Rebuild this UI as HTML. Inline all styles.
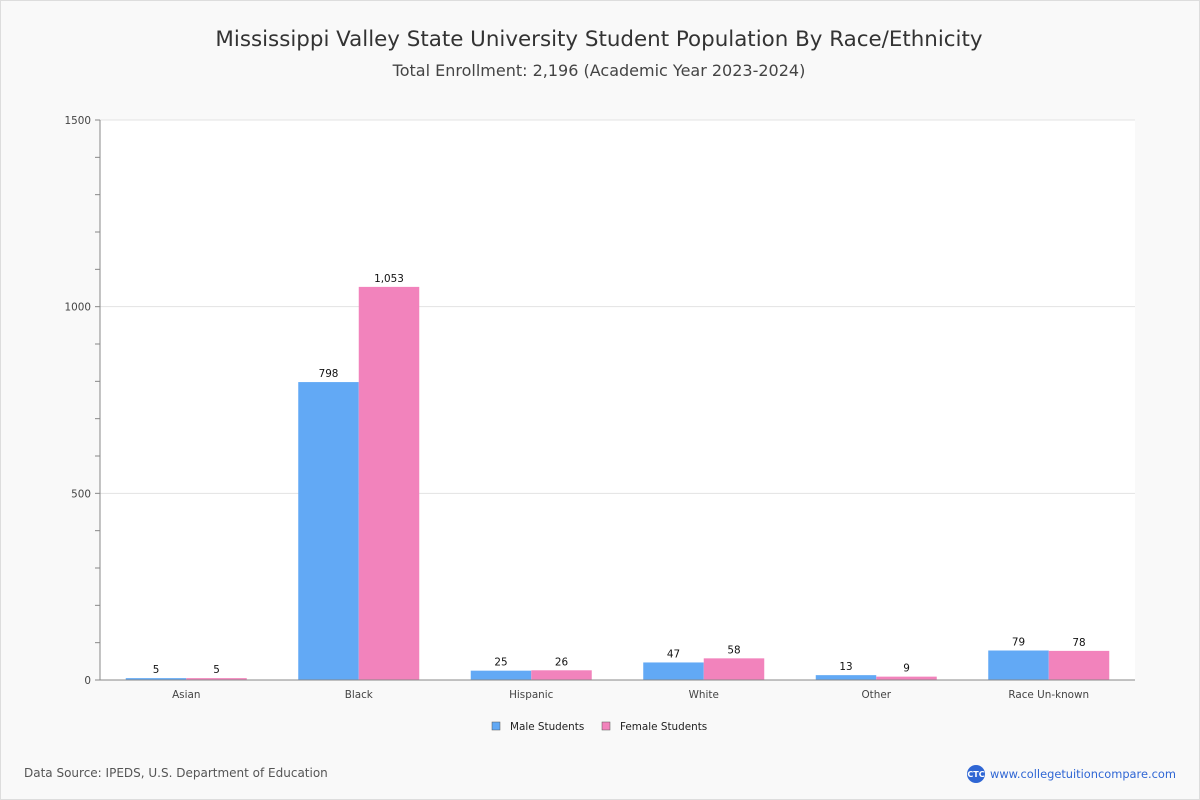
<!DOCTYPE html>
<html><head><meta charset="utf-8"><style>
body{margin:0;background:#fff}
#wrap{position:relative;box-sizing:border-box;width:1200px;height:800px;border:1px solid #ddd;background:#f9f9f9;font-family:"Liberation Sans","DejaVu Sans",sans-serif}
#svg{position:absolute;left:-1px;top:-1px}
</style></head><body>
<div id="wrap">
<svg id="svg" width="1200" height="800" xmlns="http://www.w3.org/2000/svg" font-family="DejaVu Sans, Liberation Sans, sans-serif">
<text x="599" y="46" text-anchor="middle" font-size="21.4" fill="#333">Mississippi Valley State University Student Population By Race/Ethnicity</text>
<text x="599" y="76" text-anchor="middle" font-size="16" fill="#444">Total Enrollment: 2,196 (Academic Year 2023-2024)</text>
<rect x="100" y="120" width="1035" height="560" fill="#fff"/>
<g id="grid"></g><g id="bars"></g><g id="axes"></g>
<g>
<rect x="492" y="722" width="8" height="8" fill="#62a9f5" stroke="#555" stroke-width="0.5"/>
<text x="510" y="730" font-size="10.4" fill="#222">Male Students</text>
<rect x="602" y="722" width="8" height="8" fill="#f283bc" stroke="#555" stroke-width="0.5"/>
<text x="620" y="730" font-size="10.4" fill="#222">Female Students</text>
</g>
<text x="24" y="777" font-size="12" fill="#555">Data Source: IPEDS, U.S. Department of Education</text>
<circle cx="976" cy="774" r="9" fill="#2f66d4"/>
<text x="976" y="777" text-anchor="middle" font-size="8" fill="#fff" font-weight="bold">CTC</text>
<text x="990" y="778" font-size="11.4" fill="#2f66d4">www.collegetuitioncompare.com</text>
</svg></div>
<script>
const categories=["Asian","Black","Hispanic","White","Other","Race Un-known"];
const maleValues=[5,798,25,47,13,79];
const femaleValues=[5,1053,26,58,9,78];
const yTicks=[0,500,1000,1500];
const NS="http://www.w3.org/2000/svg";
const x0=100,x1=1135,yTop=120,yBot=680,yMax=1500;
const y=v=>yBot-v/yMax*(yBot-yTop);
const band=(x1-x0)/categories.length;
const bx=i=>x0+band*i+band/2;
function mk(p,tag,a){const e=document.createElementNS(NS,tag);for(const k in a)e.setAttribute(k,a[k]);document.getElementById(p).appendChild(e);return e;}
yTicks.forEach(t=>{
 if(t>0){const g=mk("grid","line",{x1:x0,x2:x1,y1:y(t),y2:y(t),stroke:"#e3e3e3"});
 
 }
 const l=mk("axes","text",{x:x0-9,y:y(t)+4,"text-anchor":"end","font-size":"10.4",fill:"#444"});
 
 
 l.textContent=t;
});
for(let v=0;v<=yMax;v+=100){mk("axes","line",{x1:x0-5,x2:x0,y1:y(v),y2:y(v),stroke:"#888"});}
const bw=60.5;
const fmt=v=>v.toLocaleString("en-US");
categories.forEach((c,i)=>{
 [[maleValues[i],"#62a9f5",-bw],[femaleValues[i],"#f283bc",0]].forEach(([v,col,off],k)=>{
  const r=mk("bars","rect",{x:bx(i)+off,y:y(v),width:bw,height:yBot-y(v),fill:col});
  
  
  const t=mk("bars","text",{x:bx(i)+off+bw/2,y:y(v)-5,"text-anchor":"middle","font-size":"10.4",fill:"#111"});
  
  
  t.textContent=fmt(v);
 });
 const l=mk("axes","text",{x:bx(i),y:698,"text-anchor":"middle","font-size":"10.4",fill:"#444"});
 
 
 l.textContent=c;
});
mk("axes","line",{x1:x0,x2:x0,y1:yTop,y2:yBot,stroke:"#888"});
mk("axes","line",{x1:x0,x2:x1,y1:yBot,y2:yBot,stroke:"#888"});
</script>
</body></html>
